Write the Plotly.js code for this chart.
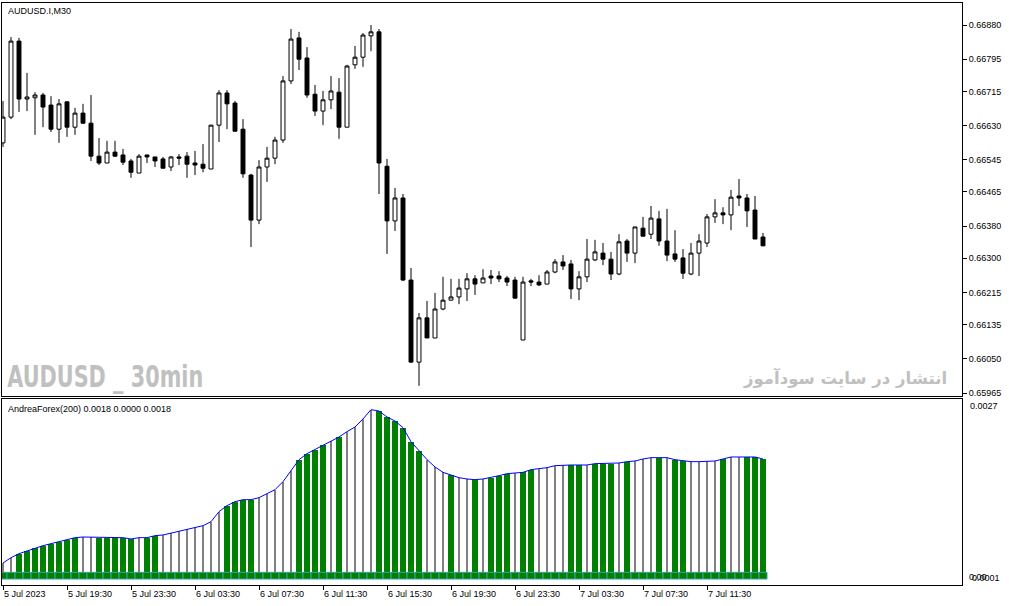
<!DOCTYPE html>
<html>
<head>
<meta charset="utf-8">
<script src="https://cdn.plot.ly/plotly-3.0.1.min.js"></script>
<style>
html,body{margin:0;padding:0;background:#fff;}
#chart{width:1009px;height:606px;}
</style>
</head>
<body>
<div id="chart"></div>
<script>
// ---- data (AUDUSD.I, M30) ----
const tickLabels = ["5 Jul 2023","5 Jul 19:30","5 Jul 23:30","6 Jul 03:30","6 Jul 07:30","6 Jul 11:30",
  "6 Jul 15:30","6 Jul 19:30","6 Jul 23:30","7 Jul 03:30","7 Jul 07:30","7 Jul 11:30"];
const tickBars = [0,8,16,24,32,40,48,56,64,72,80,88];

const open = [0.66587,0.66651,0.66840,0.66696,0.66699,0.66706,0.66681,0.66621,0.66689,0.66626,
0.66661,0.66636,0.66554,0.66537,0.66564,0.66557,0.66542,0.66512,0.66557,0.66552,
0.66547,0.66527,0.66552,0.66554,0.66537,0.66534,0.66522,0.66631,0.66711,0.66686,
0.66621,0.66507,0.66395,0.66527,0.66549,0.66594,0.66741,0.66848,0.66798,0.66708,
0.66666,0.66694,0.66713,0.66626,0.66781,0.66800,0.66853,0.66863,0.66529,0.66393,
0.66450,0.66246,0.66042,0.66152,0.66102,0.66174,0.66196,0.66204,0.66224,0.66249,
0.66239,0.66256,0.66256,0.66251,0.66246,0.66097,0.66244,0.66241,0.66236,0.66266,
0.66291,0.66286,0.66224,0.66254,0.66296,0.66313,0.66298,0.66261,0.66343,0.66313,
0.66375,0.66360,0.66398,0.66343,0.66311,0.66301,0.66261,0.66313,0.66338,0.66403,
0.66413,0.66408,0.66455,0.66450,0.66420,0.66353];

const high = [0.66691,0.66850,0.66848,0.66761,0.66713,0.66711,0.66703,0.66696,0.66689,0.66674,
0.66684,0.66706,0.66599,0.66592,0.66592,0.66572,0.66547,0.66559,0.66557,0.66552,
0.66552,0.66554,0.66559,0.66564,0.66567,0.66584,0.66631,0.66718,0.66718,0.66691,
0.66646,0.66510,0.66544,0.66577,0.66602,0.66753,0.66870,0.66863,0.66825,0.66731,
0.66716,0.66753,0.66748,0.66781,0.66828,0.66860,0.66880,0.66870,0.66547,0.66475,
0.66460,0.66276,0.66164,0.66194,0.66214,0.66254,0.66249,0.66249,0.66263,0.66258,
0.66273,0.66271,0.66268,0.66256,0.66254,0.66254,0.66249,0.66258,0.66271,0.66298,
0.66308,0.66296,0.66268,0.66348,0.66346,0.66338,0.66316,0.66360,0.66348,0.66378,
0.66403,0.66430,0.66418,0.66423,0.66370,0.66323,0.66338,0.66360,0.66410,0.66447,
0.66427,0.66470,0.66497,0.66460,0.66455,0.66363];

const low = [0.66577,0.66646,0.66664,0.66666,0.66607,0.66626,0.66614,0.66587,0.66602,0.66607,
0.66634,0.66542,0.66532,0.66537,0.66552,0.66532,0.66500,0.66512,0.66537,0.66527,
0.66524,0.66517,0.66532,0.66500,0.66507,0.66514,0.66522,0.66589,0.66621,0.66616,
0.66500,0.66328,0.66385,0.66490,0.66534,0.66587,0.66733,0.66768,0.66699,0.66654,
0.66631,0.66671,0.66597,0.66626,0.66771,0.66776,0.66815,0.66460,0.66311,0.66368,
0.66244,0.66040,0.65983,0.66102,0.66102,0.66171,0.66196,0.66186,0.66194,0.66209,
0.66239,0.66236,0.66241,0.66231,0.66201,0.66097,0.66231,0.66231,0.66236,0.66263,
0.66271,0.66199,0.66196,0.66241,0.66293,0.66283,0.66246,0.66258,0.66291,0.66288,
0.66355,0.66348,0.66331,0.66293,0.66291,0.66249,0.66258,0.66256,0.66328,0.66388,
0.66385,0.66370,0.66430,0.66378,0.66348,0.66331];

const close = [0.66651,0.66840,0.66696,0.66701,0.66706,0.66676,0.66621,0.66684,0.66626,0.66661,
0.66636,0.66554,0.66537,0.66564,0.66554,0.66539,0.66514,0.66554,0.66552,0.66542,
0.66524,0.66552,0.66549,0.66534,0.66532,0.66524,0.66631,0.66711,0.66684,0.66616,
0.66510,0.66395,0.66527,0.66549,0.66594,0.66741,0.66845,0.66795,0.66706,0.66666,
0.66694,0.66716,0.66626,0.66778,0.66800,0.66855,0.66863,0.66537,0.66393,0.66450,
0.66246,0.66042,0.66152,0.66102,0.66174,0.66196,0.66204,0.66226,0.66249,0.66236,
0.66251,0.66251,0.66249,0.66241,0.66201,0.66241,0.66241,0.66234,0.66266,0.66291,
0.66281,0.66224,0.66254,0.66298,0.66316,0.66298,0.66261,0.66341,0.66313,0.66378,
0.66355,0.66400,0.66343,0.66308,0.66298,0.66263,0.66313,0.66343,0.66403,0.66413,
0.66408,0.66452,0.66450,0.66418,0.66348,0.66331];

const priceTicks = [0.66880,0.66795,0.66715,0.66630,0.66545,0.66465,0.66380,0.66300,0.66215,0.66135,0.66050,0.65965];

// AndreaForex(200) indicator
const andrea = [0.00024,0.00032,0.00038,0.00042,0.00047,0.00050,0.00053,0.00056,0.00059,0.00062,
0.00063,0.00063,0.00062,0.00062,0.00062,0.00062,0.00060,0.00062,0.00062,0.00065,
0.00066,0.00069,0.00072,0.00075,0.00078,0.00080,0.00086,0.00101,0.00110,0.00116,
0.00119,0.00119,0.00122,0.00128,0.00134,0.00146,0.00162,0.00179,0.00188,0.00194,
0.00201,0.00207,0.00213,0.00221,0.00228,0.00240,0.00254,0.00252,0.00243,0.00237,
0.00227,0.00206,0.00192,0.00179,0.00168,0.00160,0.00156,0.00152,0.00150,0.00149,
0.00150,0.00152,0.00155,0.00158,0.00159,0.00160,0.00164,0.00165,0.00167,0.00170,
0.00171,0.00171,0.00171,0.00171,0.00173,0.00173,0.00173,0.00174,0.00176,0.00177,
0.00180,0.00182,0.00182,0.00182,0.00179,0.00177,0.00176,0.00176,0.00177,0.00177,
0.00180,0.00183,0.00183,0.00183,0.00183,0.00180];
const andreaActive = [0,0,1,1,1,1,1,1,1,1,
0,0,1,1,1,1,1,0,1,1,
0,0,0,0,0,0,0,0,1,1,
1,1,0,0,0,0,0,1,1,1,
1,0,1,0,0,0,0,1,1,1,
1,1,1,0,0,0,1,0,0,1,
0,1,1,1,0,1,1,0,0,0,
0,1,1,0,1,1,1,0,1,0,
0,0,1,0,1,1,0,0,0,0,
1,0,0,1,1,1];
const andreaBase = 0.0001;   // lower buffer level

// ---- build ----
const idx = open.map((_, i) => i);
const GREEN = '#008000', GREY = '#808080';
const baseFont = {family: 'Liberation Sans, Arial, sans-serif', size: 9, color: '#000'};
const WATERMARK = 'AUDUSD _ 30min';

const px2paperX = p => (p - 2) / 960;
const px2paperY = p => (585 - p) / 582;

const traces = [
  {
    type: 'candlestick', x: idx, open: open, high: high, low: low, close: close,
    xaxis: 'x', yaxis: 'y', whiskerwidth: 0, hoverinfo: 'skip',
    increasing: {line: {color: '#000', width: 1}, fillcolor: '#fff'},
    decreasing: {line: {color: '#000', width: 1}, fillcolor: '#000'},
    showlegend: false
  },
  {
    type: 'bar', x: idx, y: andrea, xaxis: 'x2', yaxis: 'y2',
    width: andreaActive.map(a => a ? 0.68 : 0.13),
    marker: {color: andreaActive.map(a => a ? GREEN : GREY), line: {width: 0}},
    hoverinfo: 'skip', showlegend: false
  },
  {
    type: 'bar', x: idx, y: idx.map(() => andreaBase), xaxis: 'x2', yaxis: 'y2',
    width: 1,
    marker: {color: GREEN, line: {color: '#3aa0a0', width: 1}},
    hoverinfo: 'skip', showlegend: false
  },
  {
    type: 'scatter', mode: 'lines', x: idx, y: andrea, xaxis: 'x2', yaxis: 'y2',
    line: {color: '#0000ff', width: 1}, hoverinfo: 'skip', showlegend: false
  }
];

const xr = [-0.125, 119.875];
const annotations = [
  {text: 'AUDUSD.I,M30', xref: 'paper', yref: 'paper', x: px2paperX(6), y: px2paperY(4),
   xanchor: 'left', yanchor: 'top', showarrow: false, font: baseFont},
  {text: 'AndreaForex(200) 0.0018 0.0000 0.0018', xref: 'paper', yref: 'paper', x: px2paperX(6), y: px2paperY(402),
   xanchor: 'left', yanchor: 'top', showarrow: false, font: baseFont},
  {text: '<b>' + WATERMARK + '</b>', xref: 'paper', yref: 'paper', x: px2paperX(105), y: px2paperY(376),
   xanchor: 'center', yanchor: 'middle', showarrow: false,
   font: {family: 'DejaVu Sans, sans-serif', size: 31, color: '#c0c0c0'}},
  {text: '<b>انتشار در سایت سودآموز</b>', xref: 'paper', yref: 'paper', x: px2paperX(949), y: px2paperY(378),
   xanchor: 'right', yanchor: 'middle', showarrow: false,
   font: {family: 'DejaVu Sans, Noto Sans, sans-serif', size: 16.5, color: '#c0c0c0'}},
  {text: '0.0027', xref: 'paper', yref: 'paper', x: px2paperX(968), y: px2paperY(406),
   xanchor: 'left', yanchor: 'middle', showarrow: false, font: baseFont},
  {text: '0.00', xref: 'paper', yref: 'paper', x: px2paperX(967), y: px2paperY(577),
   xanchor: 'left', yanchor: 'middle', showarrow: false, font: baseFont},
  {text: '0.0001', xref: 'paper', yref: 'paper', x: px2paperX(970), y: px2paperY(578),
   xanchor: 'left', yanchor: 'middle', showarrow: false, font: baseFont}
];

const axisFrame = {showline: true, linecolor: '#000', linewidth: 1, mirror: true, showgrid: false, zeroline: false, fixedrange: true};

const layout = {
  width: 1009, height: 606,
  margin: {l: 2, r: 47, t: 3, b: 21, pad: 0},
  paper_bgcolor: '#fff', plot_bgcolor: '#fff',
  font: baseFont,
  barmode: 'overlay', bargap: 0, boxgap: 0.3,
  showlegend: false,
  xaxis: Object.assign({}, axisFrame, {domain: [0, 1], range: xr, anchor: 'y', showticklabels: false, ticks: '', rangeslider: {visible: false}}),
  xaxis2: Object.assign({}, axisFrame, {domain: [0, 1], range: xr, anchor: 'y2', matches: 'x',
    tickmode: 'array', tickvals: tickBars, ticktext: tickLabels, ticks: 'outside', ticklen: 4, tickcolor: '#000',
    ticklabelposition: 'outside right', tickfont: baseFont}),
  yaxis: Object.assign({}, axisFrame, {domain: [0.3247, 1], range: [0.659577, 0.669347], side: 'right', anchor: 'x',
    tickmode: 'array', tickvals: priceTicks, ticktext: priceTicks.map(v => v.toFixed(5)),
    ticks: 'outside', ticklen: 4, tickcolor: '#000', tickfont: baseFont}),
  yaxis2: Object.assign({}, axisFrame, {domain: [0, 0.3196], range: [-0.00009, 0.0027], side: 'right', anchor: 'x2',
    showticklabels: false, ticks: ''}),
  annotations: annotations
};

Plotly.newPlot('chart', traces, layout, {staticPlot: true, displayModeBar: false}).then(gd => {
  // condense the watermark text like the narrow terminal font
  gd.querySelectorAll('.annotation-text').forEach(t => {
    if (t.textContent === WATERMARK) {
      t.setAttribute('textLength', '196');
      t.setAttribute('lengthAdjust', 'spacingAndGlyphs');
    }
  });
});
</script>
</body>
</html>
